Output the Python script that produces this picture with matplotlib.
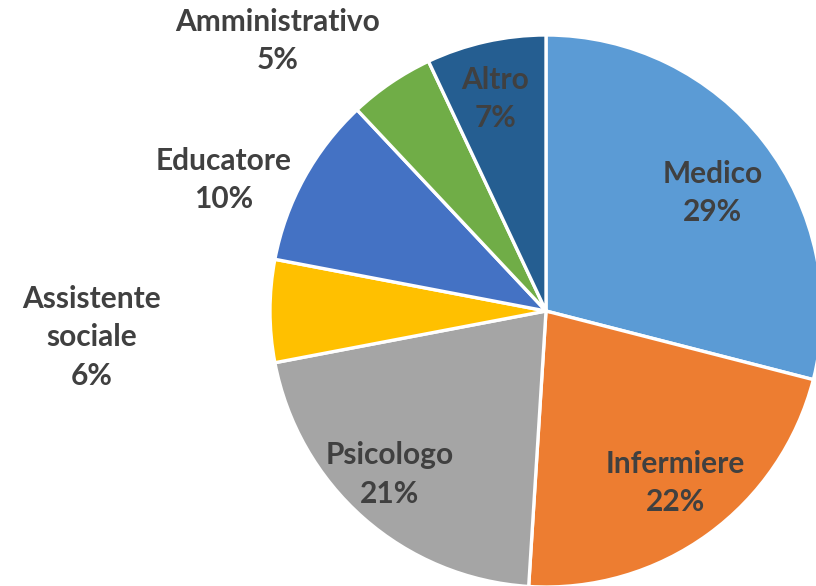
import numpy as np
import matplotlib.pyplot as plt

categories = ['Medico', 'Infermiere', 'Psicologo', 'Assistente\nsociale',
              'Educatore', 'Amministrativo', 'Altro']
shares = [29, 22, 21, 6, 10, 5, 7]
colors = ['#5B9BD5', '#ED7D31', '#A5A5A5', '#FFC000',
          '#4472C4', '#70AD47', '#255E91']

# radial distance (in radii) and angle nudge (deg) for each label
label_dist = [0.74, 0.78, 0.82, 1.65, 1.26, 1.38, 0.79]
label_nudge = [-2.5, 1.0, -2.3, 3.3, 6.7, 10.7, 0.9]

fig = plt.figure(figsize=(8.16, 5.86), dpi=100)
ax = fig.add_axes([0, 0, 1, 1])
ax.set_aspect('equal')
ax.axis('off')

cx, cy, r = 546, 586 - 311, 276
wedges, _ = ax.pie(shares, colors=colors, startangle=90, counterclock=False,
                   center=(cx, cy), radius=r,
                   wedgeprops=dict(edgecolor='white', linewidth=2.4))
ax.set_xlim(0, 816)
ax.set_ylim(0, 586)

for w, name, val, d, nudge in zip(wedges, categories, shares, label_dist, label_nudge):
    ang = np.deg2rad((w.theta1 + w.theta2) / 2 + nudge)
    x = cx + d * r * np.cos(ang)
    y = cy + d * r * np.sin(ang)
    ax.text(x, y, f'{name}\n{val}%', ha='center', va='center',
            fontsize=21.5, fontweight='bold', family='Lato', color='#404040',
            linespacing=1.45)

fig.savefig('out.png', dpi=100)
